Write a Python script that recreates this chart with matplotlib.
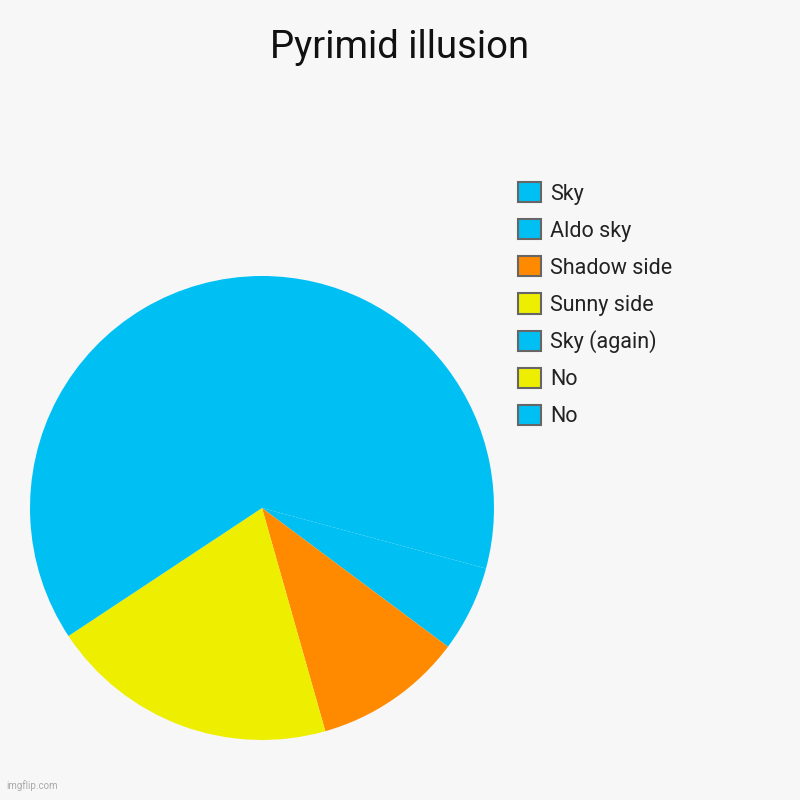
import matplotlib.pyplot as plt
from matplotlib.patches import Patch

# data (percent of the pie)
labels = ['Sky', 'Aldo sky', 'Shadow side', 'Sunny side', 'Sky (again)', 'No', 'No']
values = [29.2, 6.0, 10.4, 20.1, 34.3, 0, 0]
colors = ['#00BFF3', '#00BFF3', '#FF8A00', '#EEEE00', '#00BFF3', '#EEEE00', '#00BFF3']

plt.rcParams['font.family'] = ['Roboto', 'DejaVu Sans']
bg = '#F7F7F7'

fig = plt.figure(figsize=(8, 8), dpi=100, facecolor=bg)
ax = fig.add_axes([30 / 800, 60 / 800, 464 / 800, 464 / 800])
ax.set_facecolor(bg)

# start at 12 o'clock, go clockwise like the original
ax.pie(values, colors=colors, startangle=90, counterclock=False, radius=1,
       wedgeprops={'linewidth': 0})
ax.set_xlim(-1, 1)
ax.set_ylim(-1, 1)
ax.set_aspect('equal')
ax.axis('off')

fig.text(0.5, 1 - 48 / 800, 'Pyrimid illusion', ha='center', va='center',
         fontsize=27.5, color='#111111')

handles = [Patch(facecolor=c, edgecolor='#666666', linewidth=1.5) for c in colors]
fig.legend(handles, labels, loc='upper left', bbox_to_anchor=(518 / 800, 1 - 182 / 800),
           frameon=False, fontsize=15.5, handlelength=1.08, handleheight=1.08,
           handletextpad=0.4, labelspacing=0.675, borderpad=0, borderaxespad=0,
           labelcolor='#222222')

fig.text(6 / 800, 9 / 800, 'imgflip.com', ha='left', va='bottom', fontsize=7, color='#AAAAAA')

fig.savefig('out.png', dpi=100, facecolor=bg)
